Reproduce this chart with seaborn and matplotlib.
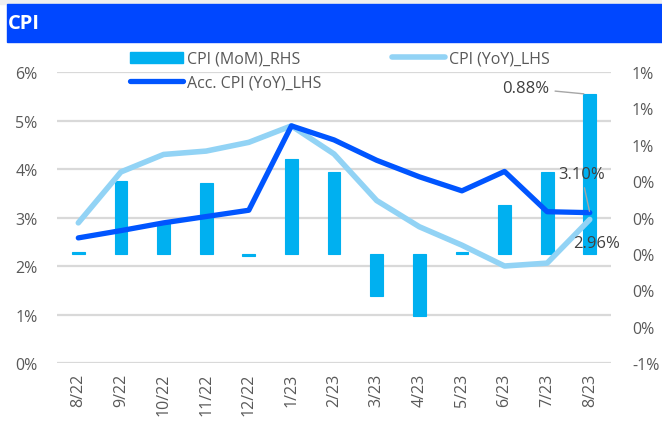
import matplotlib
matplotlib.use("Agg")
import matplotlib.pyplot as plt
import matplotlib.patches as mpatches
from matplotlib.lines import Line2D
from matplotlib.transforms import blended_transform_factory
import numpy as np
import pandas as pd
import seaborn as sns

# Data
months = ["8/22", "9/22", "10/22", "11/22", "12/22", "1/23", "2/23",
          "3/23", "4/23", "5/23", "6/23", "7/23", "8/23"]
cpi_mom = [0.01, 0.40, 0.17, 0.39, -0.01, 0.52, 0.45,
           -0.23, -0.34, 0.01, 0.27, 0.45, 0.88]
cpi_yoy = [2.89, 3.94, 4.30, 4.37, 4.55, 4.89, 4.31,
           3.35, 2.81, 2.43, 2.00, 2.06, 2.96]
cpi_acc = [2.58, 2.73, 2.89, 3.02, 3.15, 4.89, 4.60,
           4.18, 3.84, 3.55, 3.95, 3.12, 3.10]

left_ticks = [0, 1, 2, 3, 4, 5, 6]
left_labels = ["0%", "1%", "2%", "3%", "4%", "5%", "6%"]
right_ticks = [-0.6, -0.4, -0.2, 0.0, 0.2, 0.4, 0.6, 0.8, 1.0]
right_labels = ["-1%", "0%", "0%", "0%", "0%", "0%", "1%", "1%", "1%"]

df = pd.DataFrame({"month": months, "pos": np.arange(len(months)),
                   "mom": cpi_mom, "yoy": cpi_yoy, "acc": cpi_acc})

sns.set_style("white")
plt.rcParams["font.family"] = ["Open Sans", "DejaVu Sans"]

c_bar = "#00B0F0"
c_yoy = "#92D3F5"
c_acc = "#0055FF"
c_txt = "#595959"
c_grid = "#D9D9D9"

fig = plt.figure(figsize=(6.62, 4.27), dpi=100)
ax1 = fig.add_axes([0.0861, 0.1475, 0.837, 0.6815])
ax2 = ax1.twinx()

# bars on the right axis
sns.barplot(data=df, x="pos", y="mom", ax=ax2, color=c_bar, width=0.3,
            saturation=1, native_scale=True, edgecolor=c_bar, linewidth=0.8,
            zorder=2)

# left-axis grid lines, drawn under the bars
tr = blended_transform_factory(ax2.transAxes, ax1.transData)
for t in left_ticks:
    ax2.plot([0, 1], [t, t], transform=tr, color=c_grid, lw=1.6, zorder=0)

# lines on the left axis, above the bars
ax1.set_zorder(ax2.get_zorder() + 1)
ax1.patch.set_visible(False)
sns.lineplot(data=df, x="pos", y="yoy", ax=ax1, color=c_yoy, lw=4,
             solid_capstyle="round", solid_joinstyle="round")
sns.lineplot(data=df, x="pos", y="acc", ax=ax1, color=c_acc, lw=3.8,
             solid_capstyle="round", solid_joinstyle="round")

ax1.set_xlim(-0.5, len(months) - 0.5)
ax1.set_ylim(0, 6)
ax2.set_ylim(-0.6, 1.0)

ax1.set_yticks(left_ticks)
ax1.set_yticklabels(left_labels)
ax2.set_yticks(right_ticks)
ax2.set_yticklabels(right_labels)
ax1.set_xticks(df["pos"])
ax1.set_xticklabels(months, rotation=90)

for ax in (ax1, ax2):
    for s in ax.spines.values():
        s.set_visible(False)
    ax.set_xlabel("")
    ax.set_ylabel("")
    ax.tick_params(length=0, labelsize=11.5, labelcolor=c_txt)
    ax.grid(False)
ax1.tick_params(axis="y", pad=14)
ax2.tick_params(axis="y", pad=15)
ax1.tick_params(axis="x", pad=7)

# data labels
ax2.annotate("0.88%", xy=(11.86, 0.88), xytext=(-42, 4), textcoords="offset points",
             ha="center", va="center", fontsize=12, color="#404040",
             arrowprops=dict(arrowstyle="-", color="#A6A6A6", lw=1, shrinkA=2, shrinkB=0))
ax1.annotate("3.10%", xy=(12, 3.10), xytext=(-6, 28), textcoords="offset points",
             ha="center", va="center", fontsize=12, color="#404040",
             arrowprops=dict(arrowstyle="-", color="#A6A6A6", lw=1, shrinkA=2, shrinkB=1))
ax1.annotate("2.96%", xy=(12, 2.96), xytext=(5, -17), textcoords="offset points",
             ha="center", va="center", fontsize=12, color="#404040")

# legend
handles = [mpatches.Patch(color=c_bar),
           Line2D([], [], color=c_acc, lw=3.8, solid_capstyle="round"),
           Line2D([], [], color=c_yoy, lw=4, solid_capstyle="round")]
labels = ["CPI (MoM)_RHS", "Acc. CPI (YoY)_LHS", "CPI (YoY)_LHS"]
fig.legend(handles, labels, ncol=2, loc="upper left", bbox_to_anchor=(0.185, 0.897),
           frameon=False, fontsize=11.5, labelcolor=c_txt, handlelength=3.3,
           handletextpad=0.25, columnspacing=4.4, borderpad=0, labelspacing=0.45)

# header band
fig.patches.append(mpatches.Rectangle((0, 1 - 5 / 427), 1, 5 / 427,
                                      transform=fig.transFigure, color="#EFEFEF", zorder=0))
fig.patches.append(mpatches.Rectangle((7 / 662, 1 - 43 / 427), 1, 38 / 427,
                                      transform=fig.transFigure, color="#0047FF", zorder=0))
fig.text(8 / 662, 1 - 24 / 427, "CPI", color="white", fontsize=14.5,
         fontweight="bold", va="center", ha="left")

fig.savefig("out.png", dpi=100)
